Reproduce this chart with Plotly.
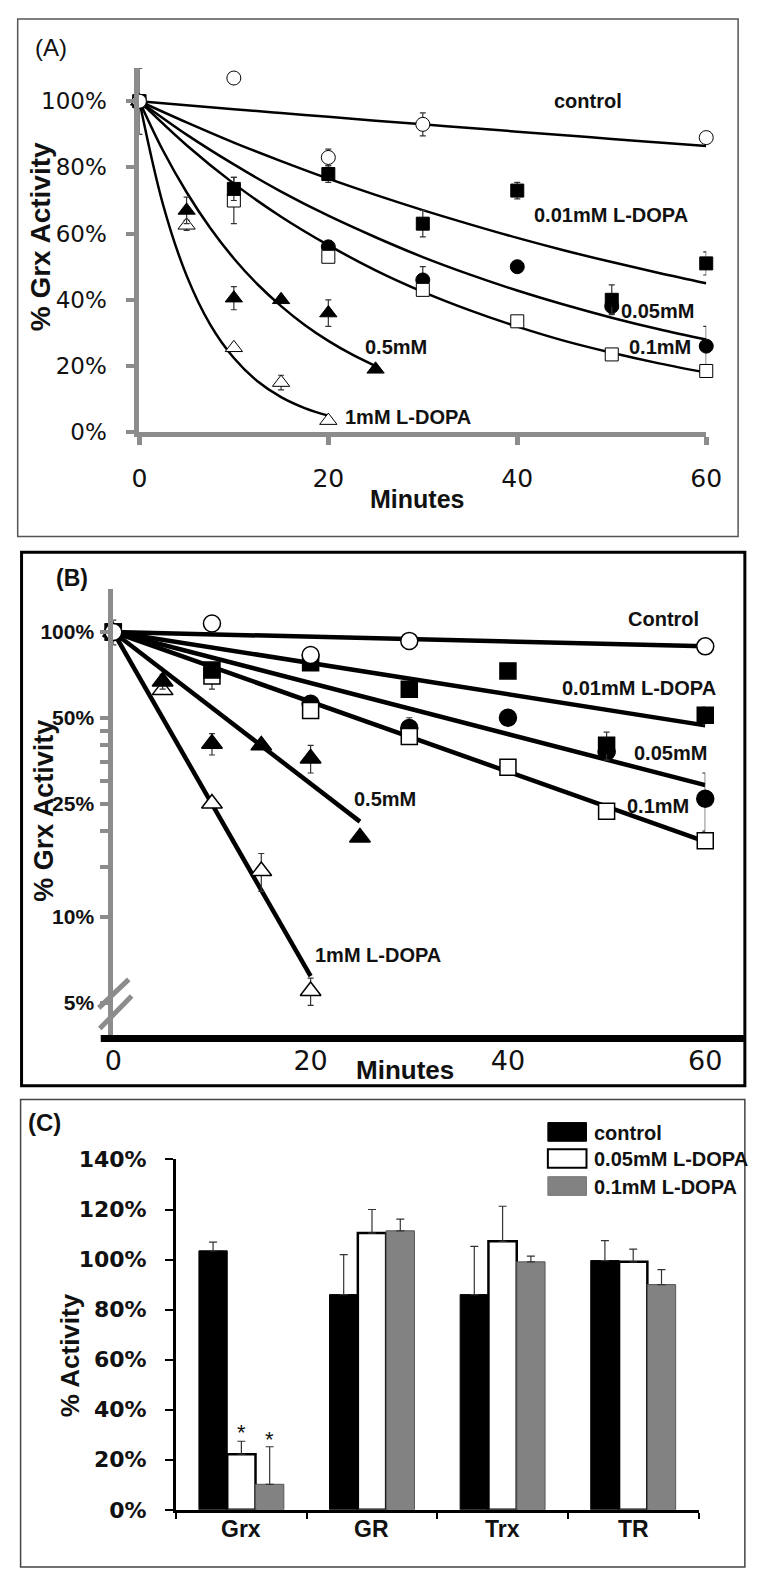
import math
import plotly.graph_objects as go

W, H = 758, 1573


def px(x):
    return x / W


def py(y):
    return 1 - y / H


# ---------------- data: panels A and B (time course, % Grx activity) ----------------
minutes_ctrl = [0, 10, 20, 30, 60]
ctrl_vals = [100, 107, 83, 93, 89]
ctrl_err = [10, 0, 2.5, 3.5, 0]

minutes_001 = [0, 10, 20, 30, 40, 50, 60]
dopa001_vals = [100, 73.5, 78, 63, 73, 40, 51]
dopa001_err = [0, 3.5, 2.5, 4, 2.5, 4.5, 3.5]

minutes_005 = [0, 20, 30, 40, 50, 60]
dopa005_vals = [100, 56, 46, 50, 38, 26]
dopa005_err = [0, 0, 4, 0, 2, 6]

minutes_01 = [0, 10, 20, 30, 40, 50, 60]
dopa01_vals = [100, 70, 53, 43, 33.5, 23.5, 18.5]
dopa01_err = [0, 7, 0, 0, 0, 0, 0]

minutes_05 = [0, 5, 10, 15, 20, 25]
dopa05_vals = [100, 67, 40.5, 40, 36, 19]
dopa05_err = [0, 4, 3.5, 0, 4, 0]

minutes_1 = [0, 5, 10, 15, 20]
dopa1_vals_a = [100, 62.5, 25.5, 15, 3.5]
dopa1_vals_b = [100, 62.5, 25, 14.5, 5.5]
dopa1_err = [0, 1.5, 0, 2.2, 0.6]

# fitted decay curves of panel A
fit_t_long = [0, 5, 10, 15, 20, 25, 30, 35, 40, 45, 50, 55, 60]
fit_ctrl = [100, 98.8, 97.6, 96.4, 95.3, 94.1, 93.0, 91.9, 90.8, 89.7, 88.6, 87.5, 86.5]
fit_001 = [100, 93.6, 87.5, 81.9, 76.6, 71.7, 67.1, 62.8, 58.7, 54.9, 51.4, 48.1, 45.0]
fit_005 = [100, 89.9, 80.9, 72.7, 65.4, 58.9, 52.9, 47.6, 42.8, 38.5, 34.6, 31.1, 28.0]
fit_01 = [100, 86.7, 75.1, 65.1, 56.5, 48.9, 42.4, 36.8, 31.9, 27.6, 24.0, 20.8, 18.0]
fit_t_05 = [0, 2.5, 5, 7.5, 10, 12.5, 15, 17.5, 20, 22.5, 25]
fit_05 = [100, 85.1, 72.5, 61.7, 52.5, 44.7, 38.1, 32.4, 27.6, 23.5, 20.0]
fit_t_1 = [0, 2.5, 5, 7.5, 10, 12.5, 15, 17.5, 20]
fit_1 = [100, 68.8, 47.3, 32.5, 22.4, 15.4, 10.6, 7.3, 5.0]

# straight fits of panel B (log scale): end point of each line (all start at 0 min, 100%)
fitb_t_end = [60, 60, 60, 60, 25, 20]
fitb_v_end = [89, 47, 29, 18.4, 21.6, 6.2]

# ---------------- data: panel C (bar chart) ----------------
enzymes = ["Grx", "GR", "Trx", "TR"]
c_control = [103.5, 86, 86, 99.6]
c_control_err = [3.5, 16, 19.3, 8]
c_dopa005 = [22.2, 110.6, 107.3, 99.1]
c_dopa005_err = [5.2, 9.4, 14, 5.1]
c_dopa01 = [10.2, 111.5, 99.1, 90]
c_dopa01_err = [15, 4.7, 2.3, 6]

pct_ticks_a = [0, 20, 40, 60, 80, 100]
pct_ticks_b = [5, 10, 15, 20, 25, 30, 35, 40, 45, 50, 100]
pct_labels_b = ["5%", "10%", "", "", "25%", "", "", "", "", "50%", "100%"]
pct_ticks_c = [0, 20, 40, 60, 80, 100, 120, 140]
minute_ticks = [0, 20, 40, 60]

GRAY = "#8c8c8c"
INK = "#111111"

fig = go.Figure()

# ---------------- panel A ----------------
for t, v in [(fit_t_long, fit_ctrl), (fit_t_long, fit_001), (fit_t_long, fit_005),
             (fit_t_long, fit_01), (fit_t_05, fit_05), (fit_t_1, fit_1)]:
    fig.add_trace(go.Scatter(x=t, y=v, mode="lines", xaxis="x", yaxis="y",
                             line=dict(color="black", width=2.5, shape="spline"),
                             showlegend=False, hoverinfo="skip", cliponaxis=False))


def add_pts(xs, ys, err, symbol, filled, size, xa, ya, lw):
    fig.add_trace(go.Scatter(
        x=xs, y=ys, mode="markers", xaxis=xa, yaxis=ya,
        marker=dict(symbol=symbol, size=size, color="black" if filled else "white",
                    line=dict(color="black", width=lw)),
        error_y=dict(type="data", array=err, visible=True, color="#333333",
                     thickness=1.2, width=3),
        cliponaxis=False, showlegend=False))


def series(vals_1mm):
    return [
        (minutes_1, vals_1mm, dopa1_err, "triangle-up", False, 15),
        (minutes_05, dopa05_vals, dopa05_err, "triangle-up", True, 15),
        (minutes_005, dopa005_vals, dopa005_err, "circle", True, 14),
        (minutes_01, dopa01_vals, dopa01_err, "square", False, 13),
        (minutes_001, dopa001_vals, dopa001_err, "square", True, 13),
        (minutes_ctrl, ctrl_vals, ctrl_err, "circle", False, 14),
    ]


for xs, ys, err, sym, filled, size in series(dopa1_vals_a):
    add_pts(xs, ys, err, sym, filled, size, "x", "y", 1)

# ---------------- panel B ----------------
for te, ve in zip(fitb_t_end, fitb_v_end):
    fig.add_trace(go.Scatter(x=[0, te], y=[100, ve], mode="lines", xaxis="x2", yaxis="y2",
                             line=dict(color="black", width=4.5),
                             showlegend=False, hoverinfo="skip", cliponaxis=False))

for xs, ys, err, sym, filled, size in series(dopa1_vals_b):
    add_pts(xs, ys, err, sym, filled, size + 3, "x2", "y2", 1.5)

# ---------------- panel C ----------------
bar_specs = [
    ("control", c_control, c_control_err, "black", "black", 1),
    ("0.05mM L-DOPA", c_dopa005, c_dopa005_err, "white", "black", 2.5),
    ("0.1mM L-DOPA", c_dopa01, c_dopa01_err, "#828282", "#555555", 1),
]
for name, vals, err, fill, edge, ew in bar_specs:
    fig.add_trace(go.Bar(
        x=enzymes, y=vals, name=name, xaxis="x3", yaxis="y3",
        marker=dict(color=fill, line=dict(color=edge, width=ew)),
        error_y=dict(type="data", array=err, arrayminus=[0] * len(err), symmetric=False,
                     visible=True, color="#333333", thickness=1.2, width=4),
        showlegend=False))

BARGAP = 0.35
bar_w = (1 - BARGAP) / 3

layout = dict(
    width=W, height=H, margin=dict(l=0, r=0, t=0, b=0),
    paper_bgcolor="white", plot_bgcolor="rgba(0,0,0,0)",
    barmode="group", bargap=BARGAP, bargroupgap=0,
    showlegend=False,
    xaxis=dict(domain=[px(135), px(722)], range=[0, 60], anchor="y",
               showline=True, linecolor=GRAY, linewidth=5, showgrid=False, zeroline=False,
               tickvals=minute_ticks, ticks="outside", ticklen=8, tickwidth=5, tickcolor=GRAY,
               tickfont=dict(family="DejaVu Sans", size=25, color=INK), ticklabelstandoff=12),
    yaxis=dict(domain=[py(427), py(57)], range=[0, 110], anchor="x",
               showline=True, linecolor=GRAY, linewidth=5, showgrid=False, zeroline=False,
               tickvals=pct_ticks_a, ticktext=[f"{v}%" for v in pct_ticks_a],
               ticks="outside", ticklen=8, tickwidth=4, tickcolor=GRAY,
               tickfont=dict(family="DejaVu Sans", size=23, color=INK), ticklabelstandoff=15),
    xaxis2=dict(domain=[px(108), px(721)], range=[0, 60], anchor="y2",
                showline=False, showgrid=False, zeroline=False,
                tickvals=minute_ticks, ticks="",
                tickfont=dict(family="DejaVu Sans", size=27, color=INK), ticklabelstandoff=4),
    yaxis2=dict(domain=[py(1043), py(586)], type="log",
                range=[math.log10(3.75), math.log10(141.8)], anchor="x2",
                showline=True, linecolor=GRAY, linewidth=5, showgrid=False, zeroline=False,
                tickvals=pct_ticks_b, ticktext=pct_labels_b,
                ticks="outside", ticklen=8, tickwidth=4, tickcolor=GRAY,
                tickfont=dict(family="Liberation Sans", size=21, color=INK, weight="bold"),
                ticklabelstandoff=2),
    xaxis3=dict(domain=[px(173), px(714)], anchor="y3", type="category",
                range=[-0.5, 3.5],
                showline=True, linecolor="black", linewidth=3, showgrid=False, zeroline=False,
                ticks="outside", tickson="boundaries", ticklen=6, tickwidth=2, tickcolor="black",
                showticklabels=False),
    yaxis3=dict(domain=[py(1522), py(1166)], range=[0, 140], anchor="x3",
                showline=True, linecolor="black", linewidth=3, showgrid=False, zeroline=False,
                tickvals=pct_ticks_c, ticktext=[f"{v}%" for v in pct_ticks_c],
                ticks="outside", ticklen=8, tickwidth=2, tickcolor="black",
                tickfont=dict(family="DejaVu Sans", size=22, color=INK, weight="bold"),
                ticklabelstandoff=14),
)
fig.update_layout(**layout)

shapes = []
# panel frames
shapes.append(dict(type="rect", xref="paper", yref="paper", x0=px(9), x1=px(755),
                   y0=py(533), y1=py(7), line=dict(color="#555555", width=1.5)))
shapes.append(dict(type="rect", xref="paper", yref="paper", x0=px(13), x1=px(762),
                   y0=py(1091), y1=py(549), line=dict(color="black", width=3)))
shapes.append(dict(type="rect", xref="paper", yref="paper", x0=px(12), x1=px(762),
                   y0=py(1580), y1=py(1105), line=dict(color="#444444", width=1.5)))
# panel B x-axis bar and axis break marks
shapes.append(dict(type="line", xref="paper", yref="paper", x0=px(95), x1=px(762),
                   y0=py(1043), y1=py(1043), line=dict(color="black", width=7)))
for (x0, y0, x1, y1) in [(93, 1012, 124, 983), (94, 1033, 127, 1000)]:
    shapes.append(dict(type="line", xref="paper", yref="paper", x0=px(x0), y0=py(y0),
                       x1=px(x1), y1=py(y1), line=dict(color=GRAY, width=5)))
# panel C legend swatches
legend_rows = [("control", "black", "black", 1, 1138),
               ("0.05mM L-DOPA", "white", "black", 2, 1165),
               ("0.1mM L-DOPA", "#828282", "#777777", 1, 1193)]
for name, fill, edge, ew, yc in legend_rows:
    shapes.append(dict(type="rect", xref="paper", yref="paper", x0=px(558), x1=px(598),
                       y0=py(yc + 9.5), y1=py(yc - 9.5), fillcolor=fill,
                       line=dict(color=edge, width=ew)))
fig.update_layout(shapes=shapes)

ann = []


def label(text, x, y, size, family="Liberation Sans", bold=True, xanchor="center",
          angle=0, color=INK):
    ann.append(dict(text=f"<b>{text}</b>" if bold else text, xref="paper", yref="paper",
                    x=px(x), y=py(y), xanchor=xanchor, yanchor="middle", showarrow=False,
                    textangle=angle, font=dict(family=family, size=size, color=color)))


# panel letters
label("(A)", 44, 36, 24, bold=False)
label("(B)", 65, 575, 23)
label("(C)", 37, 1128, 24)
# panel A texts
label("% Grx Activity", 33, 228, 28, angle=-90)
label("Minutes", 423, 495, 25)
label("control", 600, 90, 20)
label("0.01mM L-DOPA", 623, 206, 20)
label("0.05mM", 672, 304, 20)
label("0.1mM", 674, 340, 20)
label("0.5mM", 401, 340, 20)
label("1mM L-DOPA", 413, 412, 20)
# panel B texts
label("% Grx Activity", 36, 812, 27, angle=-90)
label("Minutes", 410, 1075, 26)
label("Control", 678, 617, 20)
label("0.01mM L-DOPA", 652, 687, 20)
label("0.05mM", 685, 753, 20)
label("0.1mM", 672, 807, 20)
label("0.5mM", 389, 800, 20)
label("1mM L-DOPA", 382, 958, 20)
# panel C texts
label("% Activity", 63, 1365, 26, angle=-90)
for name, fill, edge, ew, yc in legend_rows:
    label(name, 604, yc + 1, 20, xanchor="left")

# category labels of panel C
for name in enzymes:
    ann.append(dict(text=f"<b>{name}</b>", xref="x3", yref="paper", x=name, y=py(1542),
                    showarrow=False, xanchor="center", yanchor="middle",
                    font=dict(family="Liberation Sans", size=23, color=INK)))

# significance stars above the Grx L-DOPA bars
for off, ystar in [(0, 31), (bar_w, 28)]:
    ann.append(dict(text="*", xref="x3", yref="y3", x=off, y=ystar, showarrow=False,
                    xanchor="center", yanchor="middle",
                    font=dict(family="Liberation Sans", size=22, color=INK)))

fig.update_layout(annotations=ann)

fig.write_html("out.html")
